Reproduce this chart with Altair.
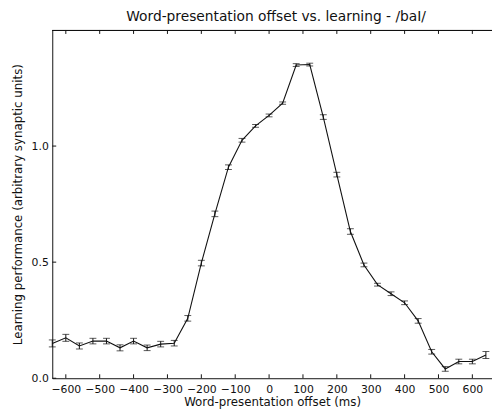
import altair as alt
import pandas as pd

offsets = [-640, -600, -560, -520, -480, -440, -400, -360, -320, -280, -240,
           -200, -160, -120, -80, -40, 0, 40, 80, 120, 160, 200, 240, 280,
           320, 360, 400, 440, 480, 520, 560, 600, 640]
performance = [0.150, 0.174, 0.139, 0.160, 0.160, 0.131, 0.160, 0.131, 0.147,
               0.151, 0.258, 0.496, 0.708, 0.909, 1.025, 1.087, 1.132, 1.185,
               1.349, 1.351, 1.125, 0.877, 0.632, 0.488, 0.403, 0.364, 0.325,
               0.247, 0.114, 0.040, 0.072, 0.072, 0.100]
errors = [0.015, 0.015, 0.013, 0.012, 0.012, 0.013, 0.012, 0.012, 0.012,
          0.012, 0.012, 0.012, 0.012, 0.010, 0.008, 0.006, 0.006, 0.005,
          0.006, 0.006, 0.010, 0.010, 0.012, 0.008, 0.006, 0.008, 0.008,
          0.010, 0.010, 0.010, 0.010, 0.010, 0.015]
x_ticks = [-600, -500, -400, -300, -200, -100, 0, 100, 200, 300, 400, 500, 600]
y_ticks = [0.0, 0.5, 1.0]

df = pd.DataFrame({"offset": offsets, "perf": performance, "err": errors})
df["lo"] = df["perf"] - df["err"]
df["hi"] = df["perf"] + df["err"]

FONT = "DejaVu Sans"
INK = "#111111"
W, H = 447, 354
xdom = [-640, 658]
ydom = [0, 1.5]

xscale = alt.Scale(domain=xdom, nice=False, zero=False)
yscale = alt.Scale(domain=ydom, nice=False)

xaxis = alt.Axis(values=x_ticks, ticks=False, labelPadding=6, grid=False,
                 title="Word-presentation offset (ms)", titlePadding=2,
                 labelFlush=False, labelOverlap=False)
yaxis = alt.Axis(values=y_ticks, ticks=False, labelPadding=4, grid=False,
                 format=".1f", title="Learning performance (arbitrary synaptic units)",
                 titlePadding=7, labelOverlap=False)

X = alt.X("offset:Q", scale=xscale, axis=xaxis)
Y = alt.Y("perf:Q", scale=yscale, axis=yaxis)

base = alt.Chart(df)

line = base.mark_line(color=INK, strokeWidth=1.1).encode(x=X, y=Y)
bars = base.mark_rule(color=INK, strokeWidth=1).encode(
    x=X, y=alt.Y("lo:Q", scale=yscale, axis=yaxis), y2="hi:Q"
)
cap_lo = base.mark_tick(color=INK, orient="horizontal", size=7, thickness=1).encode(
    x=X, y=alt.Y("lo:Q", scale=yscale, axis=yaxis)
)
cap_hi = base.mark_tick(color=INK, orient="horizontal", size=7, thickness=1).encode(
    x=X, y=alt.Y("hi:Q", scale=yscale, axis=yaxis)
)

xt = alt.Chart(pd.DataFrame({"t": x_ticks}))
yt = alt.Chart(pd.DataFrame({"t": y_ticks}))
XT = alt.X("t:Q", scale=xscale, axis=xaxis)
YT = alt.Y("t:Q", scale=yscale, axis=yaxis)
ticks_bottom = xt.mark_rule(color=INK, strokeWidth=1).encode(
    x=XT, y=alt.value(H), y2=alt.value(H - 4),
)
ticks_top = xt.mark_rule(color=INK, strokeWidth=1).encode(
    x=XT, y=alt.value(0), y2=alt.value(4),
)
ticks_left = yt.mark_rule(color=INK, strokeWidth=1).encode(
    y=YT, x=alt.value(0), x2=alt.value(4),
)
top_spine = yt.mark_rule(color=INK, strokeWidth=1).encode(
    x=alt.value(0), x2=alt.value(W), y=alt.value(0.5),
)

chart = alt.layer(
    line, bars, cap_lo, cap_hi, ticks_bottom, ticks_top, ticks_left, top_spine
).properties(
    width=W,
    height=H,
    autosize="none",
    padding={"left": 45, "top": 19, "right": 0, "bottom": 33},
    title=alt.TitleParams("Word-presentation offset vs. learning - /baI/",
                          fontSize=14, font=FONT, fontWeight="normal",
                          color=INK, anchor="middle", offset=6, dx=4),
).configure_view(strokeWidth=0).configure_axis(
    labelFont=FONT, titleFont=FONT, labelFontSize=11, titleFontSize=12,
    labelColor=INK, titleColor=INK, titleFontWeight="normal",
    domainColor=INK, domainWidth=1, labelOverlap=False,
)

chart.save("out.html", embed_options={"renderer": "svg", "actions": False})
